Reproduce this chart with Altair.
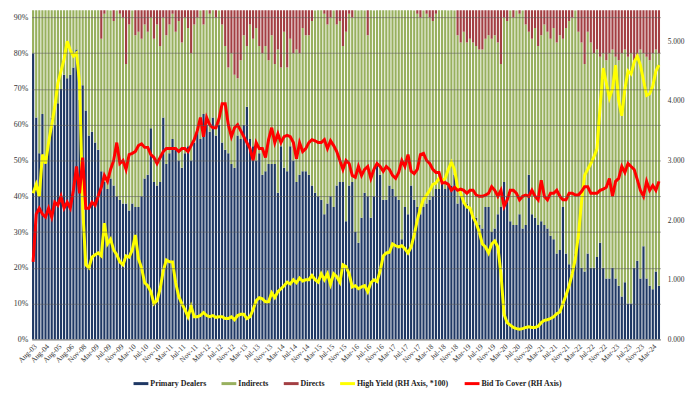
import altair as alt
import pandas as pd

x_labels = ["Aug-03", "Aug-04", "Aug-05", "Aug-06", "Nov-08",
            "Mar-09", "Jul-09", "Nov-09", "Mar-10", "Jul-10", "Nov-10",
            "Mar-11", "Jul-11", "Nov-11", "Mar-12", "Jul-12", "Nov-12",
            "Mar-13", "Jul-13", "Nov-13", "Mar-14", "Jul-14", "Nov-14",
            "Mar-15", "Jul-15", "Nov-15", "Mar-16", "Jul-16", "Nov-16",
            "Mar-17", "Jul-17", "Nov-17", "Mar-18", "Jul-18", "Nov-18",
            "Mar-19", "Jul-19", "Nov-19", "Mar-20", "Jul-20", "Nov-20",
            "Mar-21", "Jul-21", "Nov-21", "Mar-22", "Jul-22", "Nov-22",
            "Mar-23", "Jul-23", "Nov-23", "Mar-24"]

# percent of auction, one value per auction
primary_dealers = [
    80, 62, 52, 63, 50, 55, 62, 60, 66, 70, 74, 73, 74, 76, 81, 67, 71, 64, 57, 58,
    55, 53, 47, 44, 42, 45, 43, 40, 39, 38, 38, 36, 38, 37, 37, 40, 45,
    46, 59, 44, 43, 44, 62, 49, 52, 56, 53, 50, 48, 52, 54, 50, 55, 58, 56, 63, 60,
    58, 62, 57, 60, 55, 53, 52, 49, 48, 57, 56, 60, 65, 56, 54, 50, 52,
    46, 47, 49, 49, 49, 41, 54, 48, 47, 54, 50, 44, 46, 47, 47, 46, 43, 41, 40, 39,
    35, 38, 40, 37, 43, 44, 44, 33, 43, 44, 30, 27, 34, 41, 40, 34, 40,
    49, 46, 39, 39, 43, 42, 40, 39, 28, 37, 35, 43, 39, 37, 35, 37, 38, 39, 40, 42,
    42, 44, 42, 43, 43, 46, 38, 40, 38, 38, 37, 35, 34, 32, 31, 37, 37,
    30, 31, 35, 37, 44, 40, 33, 32, 32, 35, 31, 32, 46, 35, 34, 32, 33, 32, 31, 29,
    28, 24, 25, 37, 24, 21, 20, 24, 28, 20, 19, 24, 20, 20,
    23, 27, 20, 17, 17, 20, 17, 15, 12, 16, 10, 10, 20, 22, 17, 26, 17, 15, 14, 19, 15]

directs = [
    2, 1, 3, 2, 1, 2, 3, 2, 1, 2, 3, 2, 2, 1, 2, 3, 2, 3, 4, 3, 4, 5,
    16, 9, 6, 8, 11, 8, 9, 10, 23, 12, 8, 15, 14, 16, 12,
    14, 10, 16, 12, 18, 10, 15, 12, 9, 14, 11, 17, 10, 13, 20, 12, 10, 8, 12, 7,
    9, 6, 10, 8, 12, 18, 24, 20, 26, 27, 22, 15, 18, 12, 16, 13, 18,
    20, 18, 22, 15, 23, 19, 24, 14, 24, 16, 20, 19, 20, 13, 15, 15, 11, 8, 7, 7,
    9, 12, 10, 8, 12, 11, 18, 14, 9, 10, 7, 8, 6, 8, 15, 7, 8,
    7, 6, 7, 6, 7, 6, 7, 5, 6, 5, 6, 5, 8, 9, 10, 8, 9, 10, 11, 9,
    7, 6, 7, 8, 6, 8, 15, 17, 14, 17, 16, 17, 18, 19, 19, 16, 15,
    16, 15, 17, 23, 10, 11, 8, 10, 8, 9, 8, 12, 14, 16, 13, 18, 15, 12, 14, 16,
    13, 17, 15, 16, 13, 11, 10, 8, 14, 17, 23, 14, 17, 20,
    19, 21, 20, 22, 20, 19, 21, 22, 20, 19, 21, 20, 22, 21, 19, 20, 21, 22, 20, 19, 20]

high_yield = [
    2.45, 2.6, 2.4, 3.1, 2.95, 3.3, 3.6, 3.9, 4.3, 4.5, 4.7, 5.0, 4.85, 4.75, 4.8, 4.3,
    2.2, 1.25, 1.2, 1.38, 1.42, 1.45, 1.4, 1.95, 1.6, 1.68, 1.5, 1.42, 1.3, 1.25, 1.4,
    1.38, 1.5, 1.75, 1.35, 1.2, 0.95,
    0.9, 0.8, 0.6, 0.65, 0.85, 1.15, 1.33, 1.3, 1.3, 0.95, 0.72, 0.6, 0.5, 0.38, 0.55,
    0.38, 0.38, 0.4, 0.45, 0.4, 0.38, 0.4, 0.37, 0.38, 0.38, 0.35, 0.35, 0.38, 0.33,
    0.4, 0.42, 0.42, 0.35, 0.38, 0.5, 0.65, 0.7,
    0.68, 0.63, 0.63, 0.78, 0.7, 0.8, 0.85, 0.9, 0.96, 0.93, 1.0, 0.95, 1.03, 0.98,
    1.0, 1.0, 1.07, 1.0, 0.96, 1.1, 1.0, 1.1, 0.92, 1.1, 1.05, 0.96, 1.25, 1.22, 1.1,
    0.88, 0.9, 0.85, 0.88, 0.9, 0.8, 0.95, 1.0,
    0.97, 1.15, 1.4, 1.45, 1.46, 1.6, 1.57, 1.55, 1.57, 1.52, 1.45, 1.55, 1.75, 2.0,
    2.2, 2.35, 2.42, 2.5, 2.6, 2.62, 2.7, 2.66, 2.7, 2.85, 2.97, 2.85, 2.55, 2.45, 2.3,
    2.22, 2.2, 2.05, 1.95, 1.8, 1.6, 1.55, 1.45,
    1.6, 1.65, 1.55, 1.1, 0.42, 0.28, 0.24, 0.2, 0.18, 0.17, 0.18, 0.2, 0.21, 0.2, 0.2,
    0.22, 0.28, 0.32, 0.33, 0.35, 0.38, 0.43, 0.46, 0.6, 0.74, 0.9, 1.1, 1.35, 1.75,
    2.3, 2.75, 2.85, 2.95, 3.06,
    3.2, 3.9, 4.55, 4.3, 4.05, 4.2, 4.6, 4.0, 3.75, 4.2, 4.5, 4.45, 4.65, 4.75, 4.6,
    4.35, 4.09, 4.12, 4.25, 4.5, 4.6]

bid_to_cover = [
    1.3, 2.1, 2.2, 2.1, 2.05, 2.2, 2.05, 2.3, 2.25, 2.4, 2.2, 2.3, 2.2, 2.5, 2.9, 2.45,
    3.05, 2.2, 2.2, 2.3, 2.25, 2.4, 2.55, 2.75, 2.65, 2.85, 3.0, 3.3, 2.95, 3.0, 2.85,
    3.1, 3.12, 3.15, 3.25, 3.28, 3.22,
    3.22, 3.1, 3.05, 2.95, 3.05, 3.15, 3.2, 3.2, 3.2, 3.2, 3.15, 3.2, 3.2, 3.15, 3.25,
    3.35, 3.5, 3.72, 3.4, 3.72, 3.6, 3.55, 3.55, 3.7, 3.95, 3.95, 3.6, 3.4, 3.55, 3.6,
    3.5, 3.4, 3.3, 3.2, 3.0, 3.3, 3.2,
    3.2, 3.05, 3.35, 3.55, 3.3, 3.45, 3.3, 3.4, 3.42, 3.4, 3.3, 3.03, 3.3, 3.15, 3.2,
    3.3, 3.35, 3.33, 3.3, 3.3, 3.35, 3.2, 3.33, 3.25, 3.15, 3.0, 2.85, 3.0, 2.95, 2.75,
    2.72, 2.9, 2.75, 2.85, 2.9, 2.7, 2.85,
    2.95, 2.9, 2.82, 2.9, 2.85, 2.75, 2.7, 2.8, 3.0, 2.9, 3.1, 2.82, 2.78, 2.85, 3.1,
    3.12, 3.0, 2.95, 2.85, 2.8, 2.8, 2.62, 2.63, 2.6, 2.5, 2.55, 2.5, 2.52, 2.5, 2.45,
    2.5, 2.5, 2.42, 2.4, 2.4, 2.42, 2.45,
    2.56, 2.5, 2.4, 2.5, 2.23, 2.34, 2.5, 2.5, 2.45, 2.34, 2.4, 2.42, 2.4, 2.5, 2.4,
    2.34, 2.67, 2.4, 2.34, 2.45, 2.45, 2.5, 2.4, 2.34, 2.34, 2.45, 2.45, 2.42, 2.42,
    2.48, 2.56, 2.56, 2.45, 2.45,
    2.45, 2.5, 2.52, 2.55, 2.7, 2.4, 2.65, 2.7, 2.9, 2.8, 2.95, 2.9, 2.85, 2.68, 2.5,
    2.4, 2.65, 2.5, 2.58, 2.5, 2.65]

series_names = ["Primary Dealers", "Indirects", "Directs",
                "High Yield (RH Axis, *100)", "Bid To Cover (RH Axis)"]
series_colors = ["#1F3864", "#98B05E", "#A33F43", "#FFFF00", "#FF0000"]

n = len(primary_dealers)
df = pd.DataFrame({
    "idx": list(range(n)),
    "Primary Dealers": [v / 100 for v in primary_dealers],
    "Directs": [v / 100 for v in directs],
    "hy": high_yield,
    "btc": bid_to_cover,
})
df["Indirects"] = 1 - df["Primary Dealers"] - df["Directs"]

FONT = "Liberation Serif"
label_expr = "[" + ",".join("'%s'" % s for s in x_labels) + "][floor(datum.value / 4)]"

xenc = alt.X(
    "idx:O",
    title=None,
    scale=alt.Scale(paddingInner=0.3, paddingOuter=0.1),
    axis=alt.Axis(values=list(range(0, 4 * len(x_labels), 4)), labelExpr=label_expr,
                  labelAngle=-45, labelAlign="right", labelBaseline="top",
                  labelFont=FONT, labelFontSize=7.5, labelColor="#333333",
                  labelOverlap=False, labelPadding=3, ticks=False,
                  domain=True, domainColor="#999999", grid=False),
)

bars = alt.Chart(df).transform_fold(
    ["Primary Dealers", "Indirects", "Directs"], as_=["series", "share"]
).transform_calculate(
    stack_order="indexof(['Primary Dealers','Indirects','Directs'], datum.series)"
).mark_bar(clip=True).encode(
    x=xenc,
    y=alt.Y("share:Q", stack="zero", title=None,
            scale=alt.Scale(domain=[0, 0.92], nice=False, zero=True),
            axis=alt.Axis(values=[0, 0.1, 0.2, 0.3, 0.4, 0.5, 0.6, 0.7, 0.8, 0.9],
                          format=".0%", grid=True, gridColor="#5a5a5a",
                          gridWidth=0.8, gridOpacity=0.7, domain=False, ticks=False,
                          labelFont=FONT, labelFontSize=8, labelColor="#333333",
                          labelPadding=4, zindex=1)),
    color=alt.Color("series:N",
                    scale=alt.Scale(domain=series_names, range=series_colors),
                    legend=alt.Legend(title=None, orient="none", legendX=103, legendY=370,
                                      direction="horizontal", columns=5,
                                      symbolType="M-1,-0.2H1V0.2H-1Z", symbolSize=225,
                                      symbolStrokeWidth=0, symbolOpacity=1,
                                      labelFont=FONT, labelFontSize=8,
                                      labelFontWeight="bold", labelColor="#222222",
                                      columnPadding=15, labelOffset=2)),
    order=alt.Order("stack_order:Q", sort="ascending"),
)

right_scale = alt.Scale(domain=[0, 5.52], nice=False, zero=True)

hy_line = alt.Chart(df).mark_line(color="#FFFF00", strokeWidth=3).encode(
    x=xenc,
    y=alt.Y("hy:Q", title=None, scale=right_scale,
            axis=alt.Axis(orient="right", values=[0, 1, 2, 3, 4, 5], format=".3f",
                          grid=False, domain=False, ticks=False, labelFont=FONT,
                          labelFontSize=7.5, labelColor="#333333", labelPadding=7)),
)

btc_line = alt.Chart(df).mark_line(color="#FF0000", strokeWidth=3).encode(
    x=xenc,
    y=alt.Y("btc:Q", title=None, scale=right_scale, axis=None),
)

chart = alt.layer(bars, hy_line, btc_line).resolve_scale(
    y="independent"
).properties(
    width=636, height=333,
    autosize=alt.AutoSizeParams(type="none"),
    padding={"left": 24, "top": 0, "right": 32, "bottom": 53},
    background="white",
).configure_view(stroke=None)

chart.save("out.html", embed_options={"renderer": "svg", "actions": False})
